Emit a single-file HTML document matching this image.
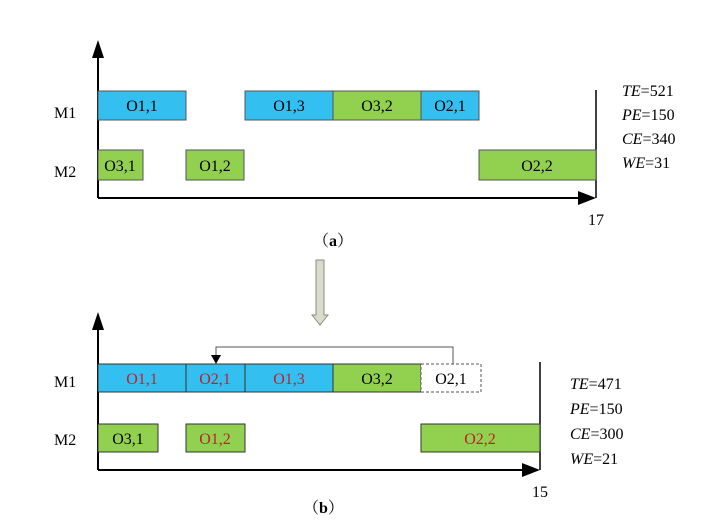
<!DOCTYPE html>
<html><head><meta charset="utf-8"><style>
body{margin:0;background:#fff}
svg text{font-family:"Liberation Serif","Noto Serif CJK SC",serif;font-size:16px}
</style></head><body>
<svg width="720" height="519" viewBox="0 0 720 519" xmlns="http://www.w3.org/2000/svg">
<defs><marker id="ah" markerWidth="10" markerHeight="10" refX="5" refY="5" orient="auto"><path d="M0,0 L10,5 L0,10 z" fill="#000"/></marker></defs>
<!-- top chart -->
<line x1="98" y1="198" x2="98" y2="48" stroke="#000" stroke-width="2"/>
<path d="M92,58 L98,40 L104,58 z" fill="#000"/>
<line x1="98" y1="198" x2="585" y2="198" stroke="#000" stroke-width="2"/>
<path d="M578,191 L596,198 L578,205 z" fill="#000"/>
<line x1="596" y1="90" x2="596" y2="198" stroke="#000" stroke-width="1.5"/>
<g stroke="#555" stroke-width="1">
<rect x="98" y="91" width="88" height="29" fill="#33bff0"/>
<rect x="245" y="91" width="88" height="29" fill="#33bff0"/>
<rect x="333" y="91" width="88" height="29" fill="#92d050"/>
<rect x="421" y="91" width="58" height="29" fill="#33bff0"/>
<rect x="98" y="150" width="45" height="30" fill="#92d050"/>
<rect x="186" y="150" width="58" height="30" fill="#92d050"/>
<rect x="479" y="150" width="117" height="30" fill="#92d050"/>
</g>
<g text-anchor="middle">
<text x="142" y="111">O1,1</text><text x="289" y="111">O1,3</text><text x="377" y="111">O3,2</text><text x="450" y="111">O2,1</text>
<text x="120" y="171">O3,1</text><text x="215" y="171">O1,2</text><text x="537" y="171">O2,2</text>
</g>
<text x="54" y="118">M1</text><text x="54" y="177">M2</text>
<text x="588" y="225">17</text>
<text x="313" y="246">（<tspan font-weight="bold">a</tspan>）</text>
<g><text x="622" y="96"><tspan font-style="italic">TE</tspan>=521</text>
<text x="622" y="120"><tspan font-style="italic">PE</tspan>=150</text>
<text x="622" y="144"><tspan font-style="italic">CE</tspan>=340</text>
<text x="622" y="168"><tspan font-style="italic">WE</tspan>=31</text></g>
<!-- down arrow -->
<path d="M316,260 L324,260 L324,315 L328,315 L320,325 L312,315 L316,315 z" fill="#d8dccb" stroke="#8a8e7a" stroke-width="1"/>
<!-- bottom chart -->
<line x1="98" y1="470" x2="98" y2="318" stroke="#000" stroke-width="2"/>
<path d="M92,330 L98,312 L104,330 z" fill="#000"/>
<line x1="98" y1="470" x2="530" y2="470" stroke="#000" stroke-width="2"/>
<path d="M522,463 L540,470 L522,477 z" fill="#000"/>
<line x1="540" y1="362" x2="540" y2="470" stroke="#000" stroke-width="1.5"/>
<polyline points="453,364 453,347 216,347 216,356" fill="none" stroke="#555" stroke-width="1"/>
<path d="M211,355 L216,364 L221,355 z" fill="#000"/>
<g stroke="#333" stroke-width="1">
<rect x="98" y="364" width="88" height="28" fill="#33bff0"/>
<rect x="186" y="364" width="59" height="28" fill="#33bff0"/>
<rect x="245" y="364" width="88" height="28" fill="#33bff0"/>
<rect x="333" y="364" width="88" height="28" fill="#92d050"/>
<rect x="98" y="424" width="60" height="28" fill="#92d050"/>
<rect x="186" y="424" width="59" height="28" fill="#92d050"/>
<rect x="421" y="424" width="119" height="28" fill="#92d050"/>
</g>
<rect x="421" y="364" width="60" height="28" fill="#fff" stroke="#555" stroke-dasharray="3,2"/>
<g text-anchor="middle">
<text x="142" y="384" fill="#c0202a">O1,1</text><text x="215" y="384" fill="#c0202a">O2,1</text><text x="289" y="384" fill="#c0202a">O1,3</text><text x="377" y="384">O3,2</text><text x="451" y="384">O2,1</text>
<text x="128" y="444">O3,1</text><text x="215" y="444" fill="#c0202a">O1,2</text><text x="480" y="444" fill="#c0202a">O2,2</text>
</g>
<text x="54" y="387">M1</text><text x="54" y="445">M2</text>
<text x="532" y="497">15</text>
<text x="303" y="513">（<tspan font-weight="bold">b</tspan>）</text>
<g><text x="570" y="389"><tspan font-style="italic">TE</tspan>=471</text>
<text x="570" y="414"><tspan font-style="italic">PE</tspan>=150</text>
<text x="570" y="439"><tspan font-style="italic">CE</tspan>=300</text>
<text x="570" y="464"><tspan font-style="italic">WE</tspan>=21</text></g>
</svg>
</body></html>
